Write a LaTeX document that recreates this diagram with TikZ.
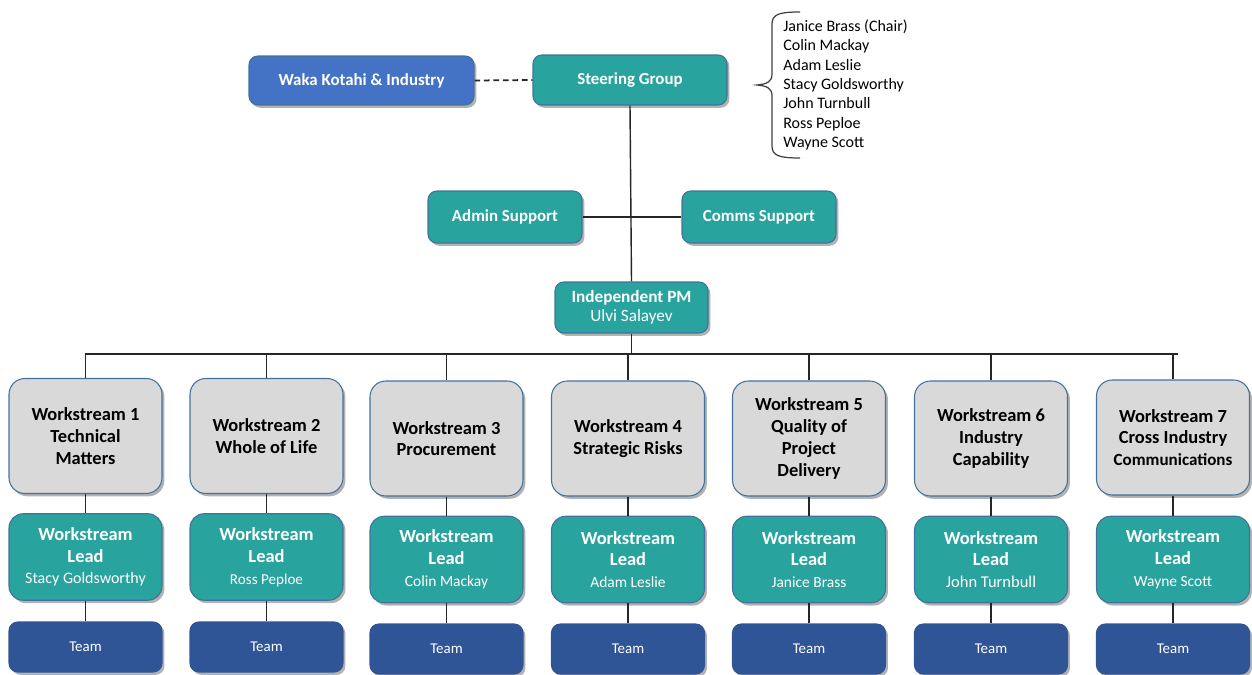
\documentclass[tikz,border=0pt]{standalone}
\usepackage{fontspec}
\setmainfont{Carlito}
\usetikzlibrary{shadows}
\definecolor{tealc}{HTML}{29A39E}
\definecolor{wakablue}{HTML}{4472C4}
\definecolor{teamblue}{HTML}{2F5597}
\definecolor{wsgray}{HTML}{D9D9D9}
\definecolor{edgeblue}{HTML}{41719C}
\definecolor{linec}{HTML}{262626}
\begin{document}
\begin{tikzpicture}[x=0.02cm,y=-0.02cm,
  shad/.style={drop shadow={shadow xshift=1.4pt,shadow yshift=-1.6pt,opacity=0.3,fill=black}},
  topbox/.style={shad,draw=edgeblue,line width=0.6pt,rounded corners=5pt,align=center,text=white,
    inner sep=0pt,font=\fontsize{9.6}{11}\selectfont\bfseries},
  wsbox/.style={shad,draw=edgeblue,line width=0.6pt,fill=wsgray,rounded corners=9pt,align=center,
    text=black,inner sep=0pt,minimum width=3.06cm,minimum height=2.3cm,
    font=\fontsize{10.5}{12.4}\selectfont\bfseries},
  leadbox/.style={shad,draw=edgeblue,line width=0.6pt,fill=tealc,rounded corners=8pt,align=center,
    text=white,inner sep=0pt,minimum width=3.06cm,minimum height=1.73cm,
    font=\fontsize{10.5}{12.4}\selectfont\bfseries},
  teambox/.style={shad,draw=teamblue,line width=0.6pt,fill=teamblue,rounded corners=5pt,align=center,
    text=white,inner sep=0pt,minimum width=3.06cm,minimum height=1.0cm,
    font=\fontsize{8.5}{10}\selectfont},
  conn/.style={draw=linec,line width=0.8pt}
]
\useasboundingbox (0,0) rectangle (1252,675);

% top level
\node[topbox,fill=wakablue,minimum width=4.5cm,minimum height=0.98cm] (waka) at (361.5,80.5) {Waka Kotahi \& Industry};
\node[topbox,fill=tealc,minimum width=3.88cm,minimum height=1.0cm] (steer) at (630,80) {Steering Group};
\draw[conn,line width=1pt,dash pattern=on 3.2pt off 2.2pt] (waka.east) -- (steer.west);

% members list with brace
\node[anchor=west,align=left,inner sep=0pt,font=\fontsize{9.1}{11.05}\selectfont] (members) at (783,85)
  {Janice Brass (Chair)\\Colin Mackay\\Adam Leslie\\Stacy Goldsworthy\\John Turnbull\\Ross Peploe\\Wayne Scott};
\draw[draw=black!75,line width=0.7pt] (800,12) .. controls (780,12) and (772,14) .. (772,24) -- (772,74)
  .. controls (772,82) and (767,84) .. (757,85) .. controls (767,86) and (772,88) .. (772,96) -- (772,146)
  .. controls (772,156) and (780,158) .. (800,158);

% support
\node[topbox,fill=tealc,minimum width=3.08cm,minimum height=1.04cm] (admin) at (505,217) {Admin Support};
\node[topbox,fill=tealc,minimum width=3.08cm,minimum height=1.04cm] (comms) at (759,217) {Comms Support};
\node[topbox,fill=tealc,minimum width=3.06cm,minimum height=1.02cm,font=\fontsize{9.8}{10.8}\selectfont] (pm) at (631.5,307.5)
  {\bfseries Independent PM\\Ulvi Salayev};

\draw[conn] (steer.south) -- (pm.north);
\draw[conn] (admin.east) -- (comms.west);

% bar
\coordinate (barL) at (85,354);
\coordinate (barR) at (1178,354);
\draw[conn] (pm.south) -- (pm.south |- barL);
\draw[conn] (barL) -- (barR);

% workstreams
\node[wsbox] (ws1) at (85.5,436) {Workstream 1\\Technical\\Matters};
\node[wsbox] (ws2) at (266.5,436) {Workstream 2\\Whole of Life};
\node[wsbox] (ws3) at (446.5,438.5) {Workstream 3\\Procurement};
\node[wsbox] (ws4) at (628,438.5) {Workstream 4\\Strategic Risks};
\node[wsbox] (ws5) at (809,438.5) {Workstream 5\\Quality of\\Project\\Delivery};
\node[wsbox] (ws6) at (991,438.5) {Workstream 6\\Industry\\Capability};
\node[wsbox] (ws7) at (1173,437.5) {Workstream 7\\Cross Industry\\{\fontsize{9.7}{11}\selectfont Communications}};

% leads
\node[leadbox] (ld1) at (85.5,557) {Workstream\\Lead\\{\mdseries\fontsize{9.1}{12}\selectfont Stacy Goldsworthy}};
\node[leadbox] (ld2) at (266.5,557) {Workstream\\Lead\\{\mdseries\fontsize{8.6}{12}\selectfont Ross Peploe}};
\node[leadbox] (ld3) at (446.5,559.5) {Workstream\\Lead\\{\mdseries\fontsize{8.8}{12}\selectfont Colin Mackay}};
\node[leadbox] (ld4) at (628,559.5) {Workstream\\Lead\\{\mdseries\fontsize{8.8}{12}\selectfont Adam Leslie}};
\node[leadbox] (ld5) at (809,559.5) {Workstream\\Lead\\{\mdseries\fontsize{8.8}{12}\selectfont Janice Brass}};
\node[leadbox] (ld6) at (991,559.5) {Workstream\\Lead\\{\mdseries\fontsize{9.4}{12}\selectfont John Turnbull}};
\node[leadbox] (ld7) at (1173,559.5) {Workstream\\Lead\\{\mdseries\fontsize{8.8}{12}\selectfont Wayne Scott}};

% teams
\node[teambox] (tm1) at (85.5,647) {Team};
\node[teambox] (tm2) at (266.5,647) {Team};
\node[teambox] (tm3) at (446.5,649) {Team};
\node[teambox] (tm4) at (628,649) {Team};
\node[teambox] (tm5) at (809,649) {Team};
\node[teambox] (tm6) at (991,649) {Team};
\node[teambox] (tm7) at (1173,649) {Team};

\foreach \i in {1,...,7}{
  \draw[conn] (ws\i.north |- barL) -- (ws\i.north);
  \draw[conn] (ws\i.south) -- (ld\i.north);
  \draw[conn] (ld\i.south) -- (tm\i.north);
}
\end{tikzpicture}
\end{document}
